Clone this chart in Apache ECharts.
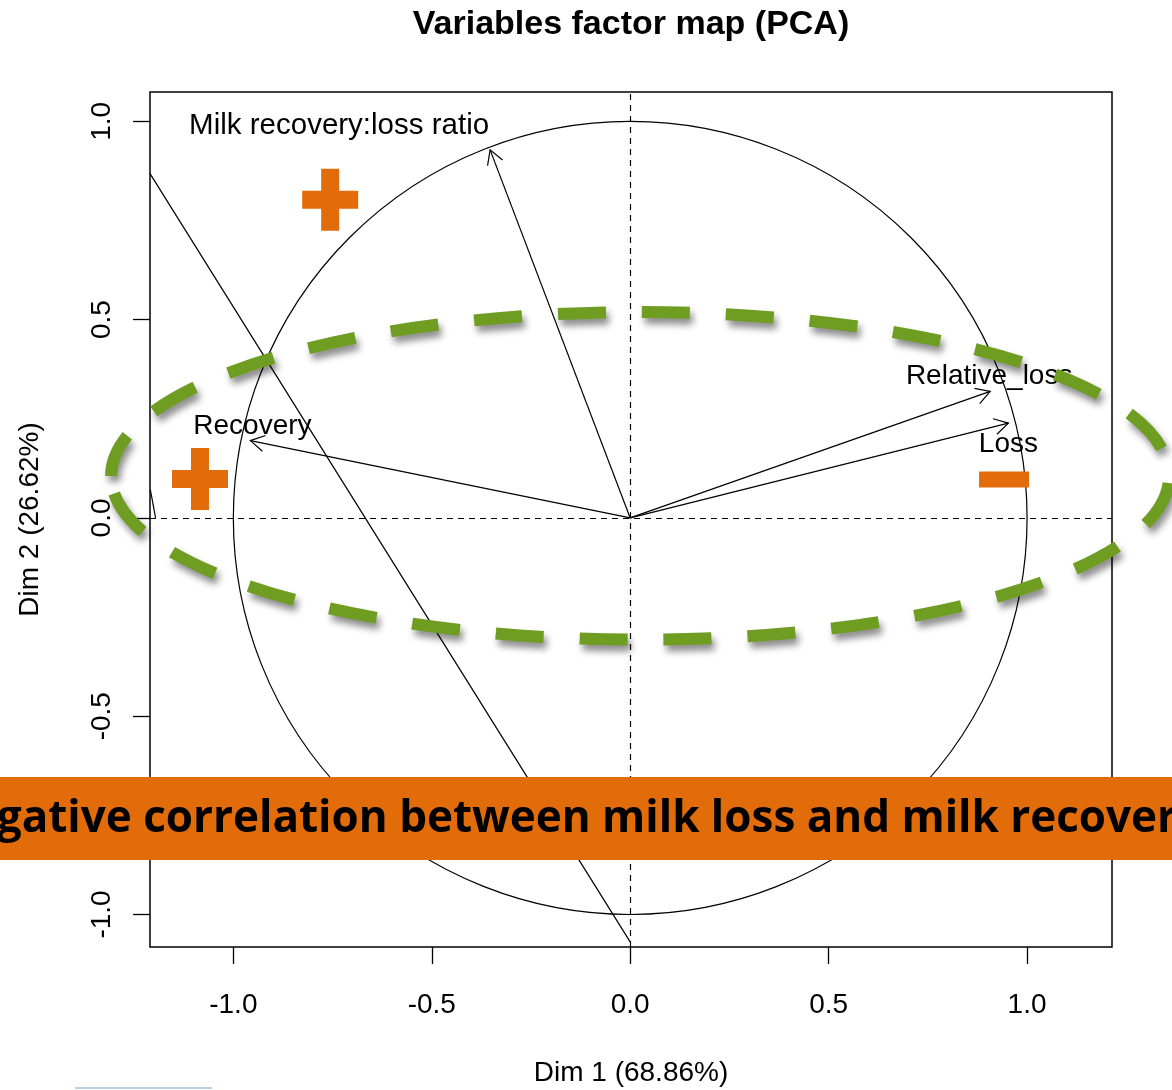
<!DOCTYPE html>
<html>
<head>
<meta charset="utf-8">
<title>Variables factor map (PCA)</title>
<script src="https://cdn.jsdelivr.net/npm/echarts@6/dist/echarts.min.js"></script>
<style>
  html, body { margin: 0; padding: 0; background: #fff; }
  #chart { width: 1172px; height: 1090px; }
</style>
</head>
<body>
<div id="chart"></div>
<script>
// Coordinates of the variables on the first two PCA dimensions
const varNames = ['Milk recovery:loss ratio', 'Recovery', 'Relative_loss', 'Loss'];
const dim1 = [-0.353, -0.957, 0.907, 0.953];
const dim2 = [0.928, 0.195, 0.319, 0.239];

// Axis ticks
const xTicks = [-1.0, -0.5, 0.0, 0.5, 1.0];
const yTicks = [-1.0, -0.5, 0.0, 0.5, 1.0];

// Plain segments (no arrow head): start and end points
const segStart = [[-1.21, 0.868], [-1.209, 0.071]];
const segEnd = [[0.0, -1.069], [-1.196, 0.0]];

// Group outline: centre and semi-axes, in dimension units
const groupCentre = [0.025, 0.106];
const groupRadii = [1.333, 0.413];

// Sign markers
const plusAt = [[-0.756, 0.802], [-1.084, 0.098]];
const minusAt = [[0.942, 0.097]];

const bannerText = 'Negative correlation between milk loss and milk recovery';

const FONT = "'Liberation Sans', Arial, sans-serif";
const ORANGE = '#e36c0a';
const GREEN = '#6f9d22';

// Label placement next to each arrow tip: [dx, dy, align, font size]
const labelPlace = [[-151, -24, 'center', 29.5], [2, -14, 'center', 28], [-1, -15, 'center', 28], [0, 21, 'center', 28]];

function ellipsePath(cx, cy, rx, ry) {
  return 'M' + (cx - rx) + ' ' + cy +
    ' A' + rx + ' ' + ry + ' 0 1 0 ' + (cx + rx) + ' ' + cy +
    ' A' + rx + ' ' + ry + ' 0 1 0 ' + (cx - rx) + ' ' + cy + ' Z';
}

const chart = echarts.init(document.getElementById('chart'), null, { renderer: 'canvas' });

const axisText = { fontFamily: FONT, fontSize: 28, color: '#000' };

const option = {
  animation: false,
  backgroundColor: '#fff',
  title: {
    text: 'Variables factor map (PCA)',
    left: 626,
    top: 3,
    textAlign: 'center',
    textStyle: { fontFamily: FONT, fontWeight: 'bold', fontSize: 34, color: '#000' }
  },
  grid: {
    left: 150, top: 92, width: 962, height: 855,
    outerBoundsMode: 'none', containLabel: false,
    show: true, borderColor: '#000', borderWidth: 1.5, backgroundColor: 'transparent'
  },
  xAxis: {
    type: 'value', min: -1.21, max: 1.214,
    axisLine: { show: false, onZero: false },
    splitLine: { show: false },
    axisTick: { show: true, length: 17, lineStyle: { color: '#000', width: 1.3 }, customValues: xTicks },
    axisLabel: Object.assign({ customValues: xTicks, formatter: v => v.toFixed(1), margin: 44 }, axisText),
    name: 'Dim 1 (68.86%)', nameLocation: 'middle', nameGap: 112,
    nameTextStyle: axisText
  },
  yAxis: {
    type: 'value', min: -1.082, max: 1.074,
    axisLine: { show: false, onZero: false },
    splitLine: { show: false },
    axisTick: { show: true, length: 17, lineStyle: { color: '#000', width: 1.3 }, customValues: yTicks },
    axisLabel: Object.assign({ customValues: yTicks, formatter: v => v.toFixed(1), rotate: 90, margin: 34 }, axisText),
    name: 'Dim 2 (26.62%)', nameLocation: 'middle', nameGap: 106, nameRotate: 90,
    nameTextStyle: axisText
  },
  series: [
    // dashed reference lines through the origin
    {
      type: 'line', data: [], silent: true,
      markLine: {
        silent: true, symbol: ['none', 'none'], label: { show: false },
        lineStyle: { color: '#000', width: 1.2, type: [6, 5] },
        data: [{ xAxis: 0 }, { yAxis: 0 }]
      }
    },
    // correlation circle
    {
      type: 'custom', silent: true, z: 2,
      data: [[0, 0, 1, 1]],
      renderItem: function (params, api) {
        const c = api.coord([api.value(0), api.value(1)]);
        const s = api.size([api.value(2), api.value(3)]);
        return {
          type: 'path',
          shape: { pathData: ellipsePath(c[0], c[1], s[0], s[1]) },
          style: { fill: 'none', stroke: '#000', lineWidth: 1.2 }
        };
      }
    },
    // plain segments
    ...segStart.map((p, i) => ({
      type: 'line', silent: true, z: 3, showSymbol: false, symbol: 'none',
      data: [p, segEnd[i]],
      lineStyle: { color: '#000', width: 1.2 }
    })),
    // variable arrows with labels
    {
      type: 'custom', silent: true, z: 4,
      data: dim1.map((x, i) => [x, dim2[i], i]),
      renderItem: function (params, api) {
        const i = api.value(2);
        const o = api.coord([0, 0]);
        const t = api.coord([api.value(0), api.value(1)]);
        const ang = Math.atan2(t[1] - o[1], t[0] - o[0]);
        const hl = 16, ha = Math.PI / 6;
        const h1 = [t[0] - hl * Math.cos(ang - ha), t[1] - hl * Math.sin(ang - ha)];
        const h2 = [t[0] - hl * Math.cos(ang + ha), t[1] - hl * Math.sin(ang + ha)];
        const lp = labelPlace[i];
        return {
          type: 'group',
          children: [
            { type: 'line', shape: { x1: o[0], y1: o[1], x2: t[0], y2: t[1] },
              style: { stroke: '#000', lineWidth: 1.2 } },
            { type: 'polyline', shape: { points: [h1, t, h2] },
              style: { stroke: '#000', lineWidth: 1.2, fill: 'none' } },
            { type: 'text', x: t[0] + lp[0], y: t[1] + lp[1],
              style: { text: varNames[i], fill: '#000', font: lp[3] + 'px ' + FONT,
                       align: lp[2], verticalAlign: 'middle' } }
          ]
        };
      }
    },
    // dashed group outline with drop shadow
    {
      type: 'custom', silent: true, z: 6, clip: false,
      data: [[groupCentre[0], groupCentre[1], groupRadii[0], groupRadii[1]]],
      renderItem: function (params, api) {
        const c = api.coord([api.value(0), api.value(1)]);
        const s = api.size([api.value(2), api.value(3)]);
        return {
          type: 'path',
          shape: { pathData: ellipsePath(c[0], c[1], s[0], s[1]) },
          style: {
            fill: 'none', stroke: GREEN, lineWidth: 12, lineDash: [48, 36], lineDashOffset: 66,
            lineCap: 'butt',
            shadowColor: 'rgba(0,0,0,0.45)', shadowBlur: 7, shadowOffsetX: 3, shadowOffsetY: 6
          }
        };
      }
    },
    // plus signs
    {
      type: 'custom', silent: true, z: 7, clip: false,
      data: plusAt,
      renderItem: function (params, api) {
        const c = api.coord([api.value(0), api.value(1)]);
        const w = 56, h = 62, th = 18;
        return {
          type: 'group',
          children: [
            { type: 'rect', shape: { x: c[0] - w / 2, y: c[1] - th / 2, width: w, height: th }, style: { fill: ORANGE } },
            { type: 'rect', shape: { x: c[0] - th / 2, y: c[1] - h / 2, width: th, height: h }, style: { fill: ORANGE } }
          ]
        };
      }
    },
    // minus signs
    {
      type: 'custom', silent: true, z: 7, clip: false,
      data: minusAt,
      renderItem: function (params, api) {
        const c = api.coord([api.value(0), api.value(1)]);
        const w = 50, th = 16;
        return { type: 'rect', shape: { x: c[0] - w / 2, y: c[1] - th / 2, width: w, height: th }, style: { fill: ORANGE } };
      }
    }
  ],
  graphic: [
    {
      type: 'rect', z: 100, silent: true,
      shape: { x: 0, y: 777, width: 1172, height: 83 },
      style: { fill: ORANGE }
    },
    {
      type: 'text', z: 101, silent: true, x: -65, y: 819,
      style: { text: bannerText, fill: '#000', font: "bold 44px 'Open Sans', sans-serif",
               align: 'left', verticalAlign: 'middle' }
    },
    {
      type: 'line', z: 100, silent: true,
      shape: { x1: 75, y1: 1088, x2: 212, y2: 1088 },
      style: { stroke: '#bcd0e2', lineWidth: 2 }
    }
  ]
};

chart.setOption(option);
</script>
</body>
</html>
